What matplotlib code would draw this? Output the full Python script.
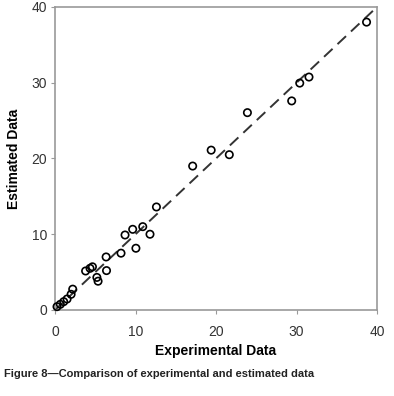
import matplotlib
matplotlib.use("Agg")
import matplotlib.pyplot as plt

# values
experimental = [0.25, 0.66, 1.08, 1.5, 2.0, 2.2, 3.8, 4.35, 4.65, 5.2, 5.35,
                6.35, 6.4, 8.2, 8.7, 9.65, 10.05, 10.9, 11.8, 12.6,
                17.1, 19.4, 21.65, 23.9, 29.4, 30.4, 31.55, 38.7]
estimated = [0.44, 0.75, 1.1, 1.45, 2.07, 2.75, 5.15, 5.5, 5.7, 4.3, 3.8,
             7.0, 5.2, 7.5, 9.9, 10.65, 8.15, 11.0, 10.0, 13.6,
             19.0, 21.1, 20.5, 26.05, 27.6, 29.95, 30.75, 38.0]
line_x = [0, 40]
line_y = [0, 40]
ticks = [0, 10, 20, 30, 40]

plt.rcParams['font.family'] = ['Liberation Sans', 'DejaVu Sans']

fig = plt.figure(figsize=(3.94, 3.96), dpi=100)
ax = fig.add_axes([0.1396, 0.2172, 0.8173, 0.7652])

ax.plot(line_x, line_y, color="#333333", lw=1.4, dashes=(6, 3.5))
ax.scatter(experimental, estimated, s=28, facecolors="none",
           edgecolors="black", linewidths=1.2, zorder=3, clip_on=False)

ax.set_xlim(0, 40)
ax.set_ylim(0, 40)
ax.set_xticks(ticks)
ax.set_yticks(ticks)
ax.tick_params(labelsize=10, length=3, color="#999999", labelcolor="#333333")
ax.tick_params(axis="x", pad=8)
ax.tick_params(axis="y", pad=2.5)
for s in ax.spines.values():
    s.set_color("#999999")
    s.set_linewidth(1.2)

ax.set_xlabel("Experimental Data", fontsize=10, fontweight="bold", labelpad=3.5)
ax.set_ylabel("Estimated Data", fontsize=10, fontweight="bold", labelpad=7.5)

fig.text(0.01, 0.055, "Figure 8\u2014Comparison of experimental and estimated data",
         fontsize=8, fontweight="bold", color="#222222", va="center")

fig.savefig("out.png", dpi=100)
